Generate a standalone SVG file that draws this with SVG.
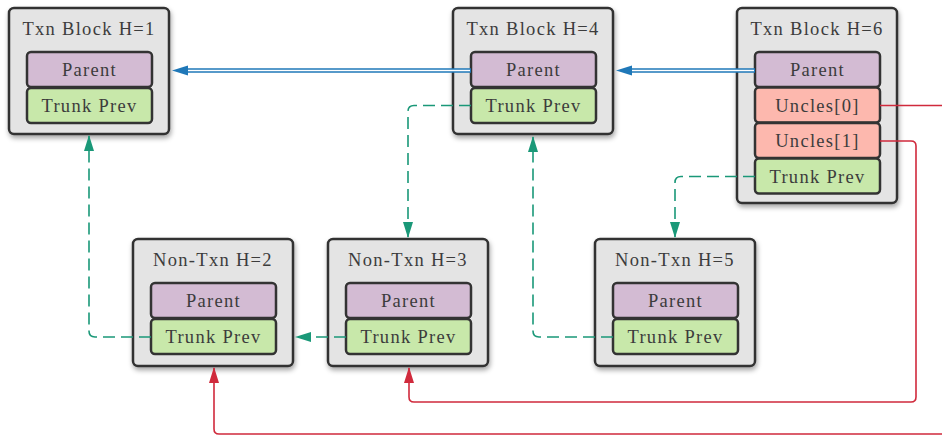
<svg xmlns="http://www.w3.org/2000/svg" width="942" height="437" viewBox="0 0 942 437">
  <defs>
    <filter id="shadow" x="-10%" y="-10%" width="125%" height="130%">
      <feDropShadow dx="1" dy="3" stdDeviation="2.5" flood-color="#000" flood-opacity="0.35"/>
    </filter>
    <marker id="arrGreen" viewBox="0 0 16 10" refX="15" refY="5" markerWidth="16" markerHeight="10" markerUnits="userSpaceOnUse" orient="auto">
      <path d="M0,0 L16,5 L0,10 Z" fill="#1a9878"/>
    </marker>
    <marker id="arrRed" viewBox="0 0 16 10" refX="15" refY="5" markerWidth="16" markerHeight="10" markerUnits="userSpaceOnUse" orient="auto">
      <path d="M0,0 L16,5 L0,10 Z" fill="#d02a3c"/>
    </marker>
  </defs>
  <style>
    .box { fill: #e4e4e4; stroke: #333; stroke-width: 2.5; filter: url(#shadow); }
    .slot { stroke: #333; stroke-width: 2.5; }
    .parent { fill: #d3bbd3; }
    .trunk { fill: #c8e8aa; }
    .uncle { fill: #fdb8ae; }
    text { font-family: "Liberation Serif", "Times New Roman", serif; font-size: 18.5px; fill: #3c3c3c; text-anchor: middle; letter-spacing: 1.3px; }
    .dash { fill: none; stroke: #1a9878; stroke-width: 1.6; stroke-dasharray: 12 6; marker-end: url(#arrGreen); }
    .red { fill: none; stroke: #d02a3c; stroke-width: 1.6; }
    .blueOuter { stroke: #1f78b8; stroke-width: 4.6; fill: none; }
    .blueInner { stroke: #ffffff; stroke-width: 1.6; fill: none; }
    .blueHead { fill: #1f78b8; }
  </style>

  <!-- Txn Block H=1 -->
  <g id="txn-h1">
    <rect class="box" x="9" y="8" width="160" height="126" rx="5"/>
    <text x="89" y="35">Txn Block H=1</text>
    <rect class="slot parent" x="27" y="52" width="125" height="35" rx="4"/>
    <text x="89.5" y="76">Parent</text>
    <rect class="slot trunk" x="27" y="88" width="125" height="35" rx="4"/>
    <text x="89.5" y="112">Trunk Prev</text>
  </g>

  <!-- Txn Block H=4 -->
  <g id="txn-h4">
    <rect class="box" x="453" y="8" width="160" height="126" rx="5"/>
    <text x="533" y="35">Txn Block H=4</text>
    <rect class="slot parent" x="471" y="52" width="125" height="35" rx="4"/>
    <text x="533.5" y="76">Parent</text>
    <rect class="slot trunk" x="471" y="88" width="125" height="35" rx="4"/>
    <text x="533.5" y="112">Trunk Prev</text>
  </g>

  <!-- Txn Block H=6 -->
  <g id="txn-h6">
    <rect class="box" x="737" y="8" width="160" height="195" rx="5"/>
    <text x="817" y="35">Txn Block H=6</text>
    <rect class="slot parent" x="755" y="52" width="125" height="35" rx="4"/>
    <text x="817.5" y="76">Parent</text>
    <rect class="slot uncle" x="755" y="87.5" width="125" height="35" rx="4"/>
    <text x="817.5" y="111.5">Uncles[0]</text>
    <rect class="slot uncle" x="755" y="123" width="125" height="35" rx="4"/>
    <text x="817.5" y="147">Uncles[1]</text>
    <rect class="slot trunk" x="755" y="158.5" width="125" height="35" rx="4"/>
    <text x="817.5" y="182.5">Trunk Prev</text>
  </g>

  <!-- Non-Txn H=2 -->
  <g id="nontxn-h2">
    <rect class="box" x="133" y="239" width="160" height="127" rx="5"/>
    <text x="213" y="266">Non-Txn H=2</text>
    <rect class="slot parent" x="151" y="283" width="125" height="35" rx="4"/>
    <text x="213.5" y="307">Parent</text>
    <rect class="slot trunk" x="151" y="319" width="125" height="35" rx="4"/>
    <text x="213.5" y="343">Trunk Prev</text>
  </g>

  <!-- Non-Txn H=3 -->
  <g id="nontxn-h3">
    <rect class="box" x="328" y="239" width="160" height="127" rx="5"/>
    <text x="408" y="266">Non-Txn H=3</text>
    <rect class="slot parent" x="346" y="283" width="125" height="35" rx="4"/>
    <text x="408.5" y="307">Parent</text>
    <rect class="slot trunk" x="346" y="319" width="125" height="35" rx="4"/>
    <text x="408.5" y="343">Trunk Prev</text>
  </g>

  <!-- Non-Txn H=5 -->
  <g id="nontxn-h5">
    <rect class="box" x="595" y="239" width="160" height="127" rx="5"/>
    <text x="675" y="266">Non-Txn H=5</text>
    <rect class="slot parent" x="613" y="283" width="125" height="35" rx="4"/>
    <text x="675.5" y="307">Parent</text>
    <rect class="slot trunk" x="613" y="319" width="125" height="35" rx="4"/>
    <text x="675.5" y="343">Trunk Prev</text>
  </g>

  <g id="connectors">
    <!-- parent links (double blue) -->
    <line class="blueOuter" x1="471" y1="70.5" x2="186" y2="70.5"/>
    <line class="blueInner" x1="470" y1="70.5" x2="186" y2="70.5"/>
    <path class="blueHead" d="M172,70.5 L188,65.5 L188,75.5 Z"/>
    <line class="blueOuter" x1="755" y1="70.5" x2="630" y2="70.5"/>
    <line class="blueInner" x1="754" y1="70.5" x2="630" y2="70.5"/>
    <path class="blueHead" d="M616,70.5 L632,65.5 L632,75.5 Z"/>

    <!-- trunk links (dashed green) -->
    <path class="dash" d="M151,337 H95 Q89,337 89,331 V136"/>
    <path class="dash" d="M346,337 H296"/>
    <path class="dash" d="M471,105.5 H414 Q408,105.5 408,111.5 V237"/>
    <path class="dash" d="M613,337 H539 Q533,337 533,331 V137"/>
    <path class="dash" d="M755,176.5 H681 Q675,176.5 675,182.5 V237"/>

    <!-- uncle links (red) -->
    <path class="red" d="M880,105.5 H942"/>
    <path class="red" marker-end="url(#arrRed)" d="M880,141 H911 Q916,141 916,146 V397 Q916,402 911,402 H414 Q409,402 409,397 V368"/>
    <path class="red" marker-end="url(#arrRed)" d="M942,434 H219 Q214,434 214,429 V368"/>
  </g>
</svg>
